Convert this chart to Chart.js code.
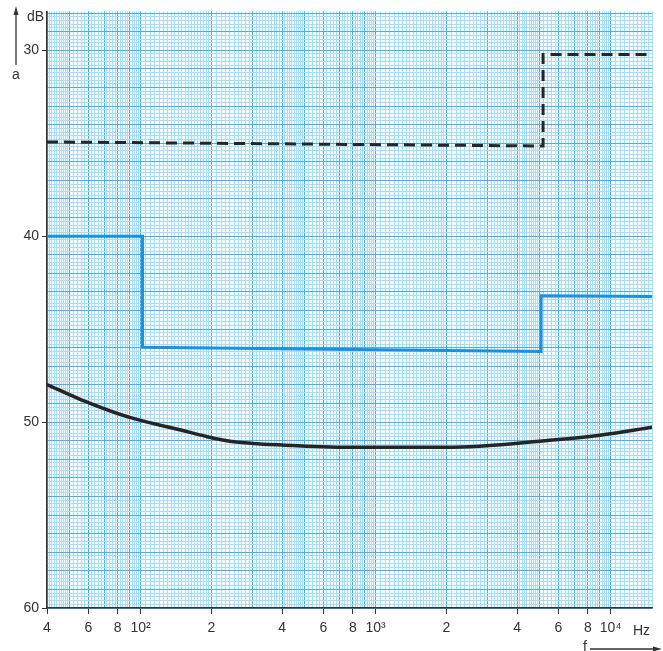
<!DOCTYPE html>
<html>
<head>
<meta charset="utf-8">
<script src="https://cdn.jsdelivr.net/npm/chart.js@4/dist/chart.umd.min.js"></script>
<style>
  body { margin: 0; background: #fff; }
</style>
</head>
<body>
<canvas id="grafico" width="663" height="651"></canvas>
<script>
// labelled ticks
const xTicks = [40, 60, 80, 100, 200, 400, 600, 800, 1000, 2000, 4000, 6000, 8000, 10000]
const xTickLabels = ['4', '6', '8', '10²', '2', '4', '6', '8', '10³', '2', '4', '6', '8', '10⁴']
const yTicks = [30, 40, 50, 60]

// dashed black limit
const dashedF = [40, 5160, 5160, 15000]
const dashedA = [34.93, 35.15, 30.23, 30.23]

// blue limit
const blueF = [40, 102, 102, 5060, 5060, 15000]
const blueA = [40.0, 40.0, 45.98, 46.2, 43.2, 43.25]

// measured curve
const curveF = [40, 55, 90, 150, 190, 240, 300, 400, 800, 2000, 5500, 9000, 15000]
const curveA = [47.98, 48.76, 49.75, 50.44, 50.77, 51.03, 51.15, 51.23, 51.36, 51.36, 50.98, 50.71, 50.28]

const toPoints = (fs, as) => fs.map((f, i) => ({ x: f, y: as[i] }))

// grid lines of the log paper (mantissa in hundredths)
const xGrid = []
for (let d = 10; d <= 10000; d *= 10) {
  for (let m = 100; m < 1000; m += (m < 200 ? 5 : m < 500 ? 10 : 20)) {
    const v = m * d / 100
    if (v >= 40 && v <= 15000) xGrid.push(v)
  }
}
const yGrid = []
for (let i = 280; i <= 600; i += 2) yGrid.push(i / 10)

const isMajorX = v => {
  const m = v / Math.pow(10, Math.floor(Math.log10(v) + 1e-9))
  return Math.abs(m - Math.round(m)) < 1e-6
}
const isMajorY = v => Math.abs(v - Math.round(v)) < 1e-6

const fam = '"Liberation Sans", "DejaVu Sans", sans-serif'

const paper = {
  id: 'paper',
  beforeDraw(chart) {
    const { ctx, chartArea: a } = chart
    ctx.save()
    ctx.fillStyle = '#f3fbfe'
    ctx.fillRect(a.left, a.top, a.right - a.left, a.bottom - a.top)
    ctx.restore()
  },
  afterDraw(chart) {
    const ctx = chart.ctx
    ctx.save()
    ctx.fillStyle = '#333'
    ctx.strokeStyle = '#333'
    ctx.font = '14px ' + fam
    ctx.textBaseline = 'middle'
    ctx.textAlign = 'left'
    ctx.fillText('dB', 27, 17)
    ctx.fillText('a', 12, 75)
    ctx.fillText('Hz', 633, 631)
    ctx.fillText('f', 583, 647)
    // arrows
    ctx.lineWidth = 1.3
    ctx.beginPath()
    ctx.moveTo(16, 65)
    ctx.lineTo(16, 12)
    ctx.stroke()
    ctx.beginPath()
    ctx.moveTo(16, 6)
    ctx.lineTo(13.5, 15)
    ctx.lineTo(18.5, 15)
    ctx.closePath()
    ctx.fill()
    ctx.beginPath()
    ctx.moveTo(590, 649)
    ctx.lineTo(655, 649)
    ctx.stroke()
    ctx.beginPath()
    ctx.moveTo(662, 649)
    ctx.lineTo(653, 646.5)
    ctx.lineTo(653, 651.5)
    ctx.closePath()
    ctx.fill()
    ctx.restore()
  }
}

new Chart(document.getElementById('grafico').getContext('2d'), {
  type: 'line',
  data: {
    datasets: [
      {
        data: toPoints(dashedF, dashedA),
        borderColor: '#262626',
        borderWidth: 3,
        borderDash: [11, 6],
        pointRadius: 0,
        fill: false
      },
      {
        data: toPoints(blueF, blueA),
        borderColor: '#1b8fe0',
        borderWidth: 3,
        pointRadius: 0,
        fill: false
      },
      {
        data: toPoints(curveF, curveA),
        borderColor: '#252525',
        borderWidth: 3.5,
        pointRadius: 0,
        cubicInterpolationMode: 'monotone',
        fill: false
      }
    ]
  },
  options: {
    responsive: false,
    animation: false,
    layout: { padding: { top: 8, right: 11, left: 0, bottom: 0 } },
    plugins: { legend: { display: false }, tooltip: { enabled: false } },
    scales: {
      x: {
        type: 'logarithmic',
        min: 40,
        max: 15000,
        afterBuildTicks: s => { s.ticks = xGrid.map(v => ({ value: v })) },
        afterFit: s => { s.height = 43 },
        ticks: {
          autoSkip: false,
          maxRotation: 0,
          padding: 6,
          color: '#333',
          font: { family: fam, size: 14 },
          callback: v => {
            const i = xTicks.findIndex(t => Math.abs(t - v) < 1e-6)
            return i >= 0 ? xTickLabels[i] : ''
          }
        },
        grid: {
          color: c => isMajorX(c.tick.value) ? '#4aafe4' : '#a8ddf5',
          lineWidth: 1,
          tickLength: 6,
          tickColor: c => xTicks.some(t => Math.abs(t - c.tick.value) < 1e-6) ? '#333' : 'rgba(0,0,0,0)'
        },
        border: { color: '#333', width: 1.5 }
      },
      y: {
        reverse: true,
        min: 27.91,
        max: 60,
        afterBuildTicks: s => { s.ticks = yGrid.map(v => ({ value: v })) },
        afterFit: s => { s.width = 47 },
        ticks: {
          autoSkip: false,
          padding: 3,
          color: '#333',
          font: { family: fam, size: 14 },
          callback: v => yTicks.some(t => Math.abs(t - v) < 1e-6) ? String(Math.round(v)) : ''
        },
        grid: {
          color: c => isMajorY(c.tick.value) ? '#4aafe4' : '#a8ddf5',
          lineWidth: 1,
          tickLength: 5,
          tickColor: c => yTicks.some(t => Math.abs(t - c.tick.value) < 1e-6) ? '#333' : 'rgba(0,0,0,0)'
        },
        border: { color: '#333', width: 1.5 }
      }
    }
  },
  plugins: [paper]
})
</script>
</body>
</html>
